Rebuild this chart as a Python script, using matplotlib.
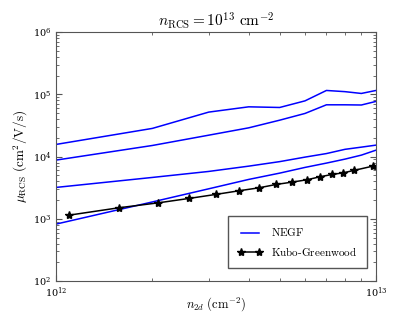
import matplotlib
matplotlib.use("Agg")
import matplotlib.pyplot as plt
from matplotlib.ticker import NullFormatter
import numpy as np

plt.rcParams['mathtext.fontset'] = 'cm'
plt.rcParams['font.family'] = 'serif'
plt.rcParams['font.serif'] = ['DejaVu Serif']

# NEGF curves (density in cm^-2, mobility in cm^2/V/s)
n_negf = np.array([1, 2, 3, 4, 5, 6, 7, 8, 9, 10]) * 1e12
mu_negf_1 = [15700, 28400, 51900, 63100, 61600, 78700, 115600, 110600, 103500, 115600]
mu_negf_2 = [8790, 15100, 22100, 29000, 38500, 49400, 68000, 68000, 67500, 77100]
mu_negf_3 = [3200, 4630, 5780, 7030, 8310, 9820, 11200, 13100, 14200, 15300]
mu_negf_4 = [824, 1870, 3040, 4300, 5430, 6710, 7870, 9120, 10570, 12700]

# Kubo-Greenwood
n_kg = np.array([1.10, 1.57, 2.09, 2.61, 3.16, 3.73, 4.31, 4.88, 5.46, 6.07,
                 6.68, 7.30, 7.91, 8.53, 9.77]) * 1e12
mu_kg = [1148, 1506, 1811, 2133, 2472, 2825, 3156, 3575, 3890, 4238,
         4740, 5179, 5495, 6003, 7030]

fig = plt.figure(figsize=(4.15, 3.12), dpi=100)
ax = fig.add_axes([0.135, 0.099, 0.771, 0.798])

ax.plot(n_negf, mu_negf_1, color='blue', lw=1.1, label=r'$\mathrm{NEGF}$')
ax.plot(n_negf, mu_negf_2, color='blue', lw=1.1)
ax.plot(n_negf, mu_negf_3, color='blue', lw=1.1)
ax.plot(n_negf, mu_negf_4, color='blue', lw=1.1)
ax.plot(n_kg, mu_kg, 'k-*', lw=1.1, ms=6, label=r'$\mathrm{Kubo\text{-}Greenwood}$')

ax.set_xscale('log')
ax.set_yscale('log')
ax.set_xlim(1e12, 1e13)
ax.set_ylim(1e2, 1e6)
ax.xaxis.set_minor_formatter(NullFormatter())

for s in ax.spines.values():
    s.set_color('#555555')
ax.tick_params(which='both', direction='in', top=True, right=True, labelsize=7, color='#555555')
ax.tick_params(which='major', length=4)
ax.tick_params(which='minor', length=2)
ax.tick_params(axis='x', pad=3)

ax.set_title(r'$n_{\mathrm{RCS}} = 10^{13}\ \mathrm{cm}^{-2}$', fontsize=11, pad=4)
ax.set_xlabel(r'$n_{2d}\ (\mathrm{cm}^{-2})$', fontsize=9)
ax.xaxis.set_label_coords(0.5, -0.058)
ax.set_ylabel(r'$\mu_{\mathrm{RCS}}\ (\mathrm{cm}^2/\mathrm{V/s})$', fontsize=9.5, labelpad=2)

leg = ax.legend(loc='lower right', fontsize=8, fancybox=False, framealpha=1,
                borderpad=0.9, labelspacing=0.6, handlelength=2.2, numpoints=2,
                bbox_to_anchor=(0.99, 0.03))
leg.get_frame().set_edgecolor('#555555')

fig.savefig('out.png', dpi=100)
